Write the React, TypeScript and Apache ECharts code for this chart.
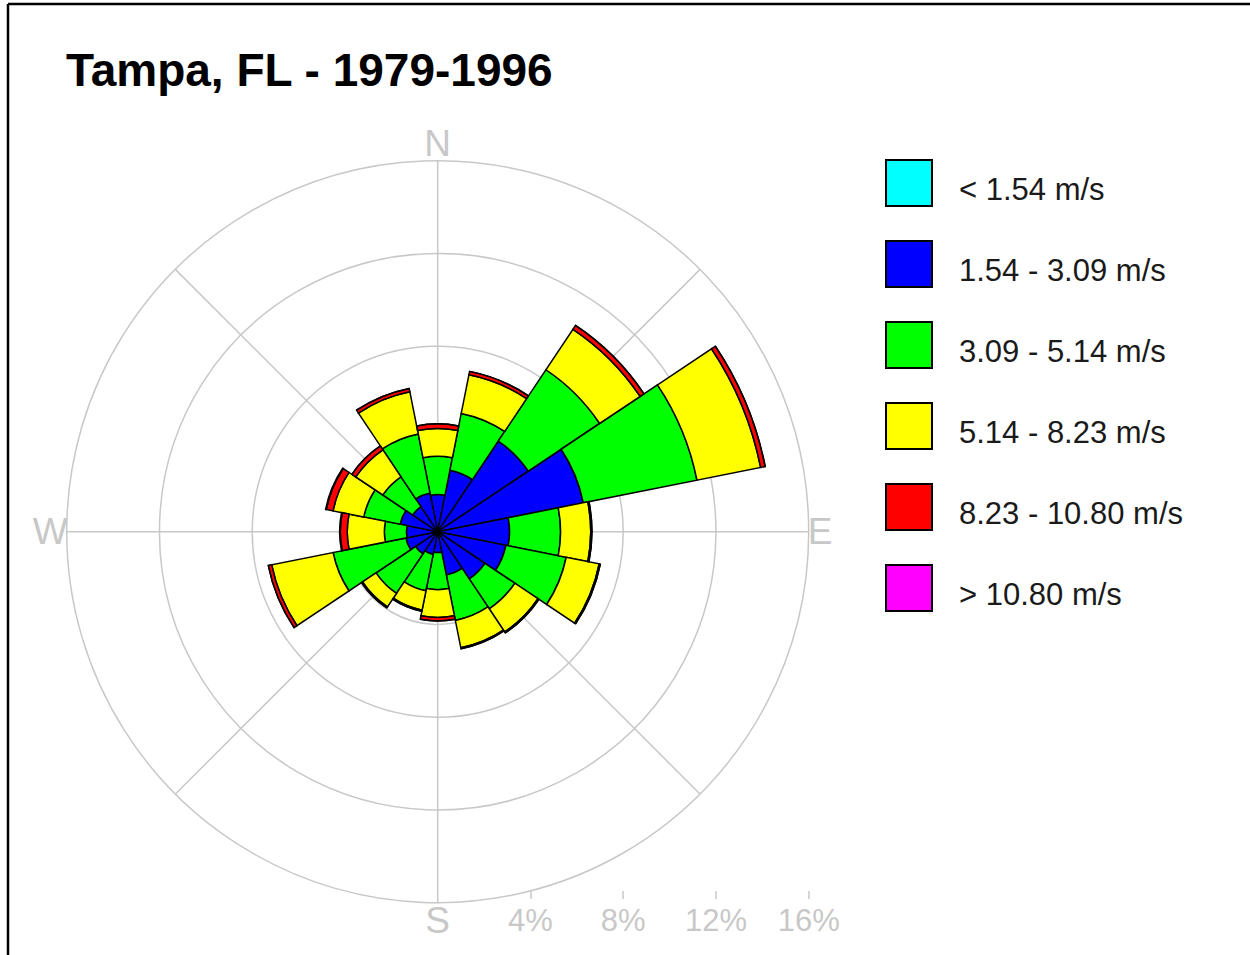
import React, { useEffect, useRef } from "react";
import * as echarts from "echarts";

const directions = ["N", "NNE", "NE", "ENE", "E", "ESE", "SE", "SSE", "S", "SSW", "SW", "WSW", "W", "WNW", "NW", "NNW"];
const speedClasses = ["< 1.54 m/s", "1.54 - 3.09 m/s", "3.09 - 5.14 m/s", "5.14 - 8.23 m/s", "8.23 - 10.80 m/s", "> 10.80 m/s"];
const classColors = ["#00ffff", "#0000ff", "#00ff00", "#ffff00", "#ff0000", "#ff00ff"];

// percent frequency per direction for each speed class
const calmClass = [0, 0, 0, 0, 0, 0, 0, 0, 0, 0, 0, 0, 0, 0, 0, 0];
const blueClass = [1.6, 2.7, 4.7, 6.4, 3.1, 3.0, 2.45, 1.9, 0.9, 1.0, 1.15, 1.4, 1.35, 1.65, 1.3, 1.7];
const greenClass = [1.65, 2.5, 3.7, 5.0, 2.2, 2.65, 1.55, 2.0, 1.6, 1.6, 2.05, 3.2, 0.95, 1.6, 1.55, 2.6];
const yellowClass = [1.2, 1.7, 2.1, 2.8, 1.3, 1.45, 1.2, 1.2, 1.2, 0.85, 0.7, 2.7, 1.6, 1.35, 1.4, 1.85];
const redClass = [0.2, 0.15, 0.2, 0.2, 0.05, 0.05, 0.05, 0.05, 0.15, 0.05, 0.05, 0.15, 0.3, 0.3, 0.2, 0.15];
const magentaClass = [0, 0, 0, 0, 0, 0, 0, 0, 0, 0, 0, 0, 0.03, 0.03, 0, 0];
const classValues = [calmClass, blueClass, greenClass, yellowClass, redClass, magentaClass];

const radialMax = 16;
const radialStep = 4;
const axisTickValues = [4, 8, 12, 16];
const compassLabels: Record<number, string> = { 0: "N", 90: "E", 180: "S", 270: "W" };

const FONT = "'Liberation Sans', Arial, sans-serif";
const GRID_GRAY = "#c8c8c8";

export default function App() {
  const ref = useRef<HTMLDivElement>(null);

  useEffect(() => {
    if (!ref.current) return;
    const chart = echarts.init(ref.current, undefined, { renderer: "svg" });
    const CX = 437.7;
    const CY = 531.7;
    const R = 371;

    const option: any = {
      animation: false,
      backgroundColor: "#ffffff",
      textStyle: { fontFamily: FONT },
      title: {
        text: "Tampa, FL - 1979-1996",
        left: 61,
        top: 42,
        textStyle: { fontSize: 46, fontWeight: "bold", color: "#000", fontFamily: FONT },
      },
      legend: {
        data: speedClasses,
        orient: "vertical",
        left: 880,
        top: 154,
        itemWidth: 46,
        itemHeight: 46,
        itemGap: 33,
        icon: "rect",
        selectedMode: false,
        itemStyle: { borderColor: "#000", borderWidth: 2 },
        formatter: (name: string) => `{t|${name}}`,
        textStyle: {
          fontSize: 31,
          color: "#1a1a1a",
          fontFamily: FONT,
          padding: [0, 0, 0, 22],
          rich: {
            t: {
              fontSize: 31,
              lineHeight: 34,
              color: "#1a1a1a",
              fontFamily: FONT,
              padding: [13, 0, 0, 0],
            },
          },
        },
      },
      polar: [
        { center: [CX, CY], radius: R },
        { center: [CX, CY], radius: R },
      ],
      angleAxis: [
        {
          polarIndex: 0,
          type: "value",
          min: 0,
          max: 360,
          interval: 45,
          startAngle: 90,
          clockwise: true,
          axisLine: { show: false },
          axisTick: { show: false },
          splitLine: { show: true, lineStyle: { color: GRID_GRAY, width: 1.5 } },
          axisLabel: {
            formatter: (v: number) => compassLabels[v] || "",
            color: GRID_GRAY,
            fontSize: 37,
            margin: -1,
            fontFamily: FONT,
          },
        },
        {
          polarIndex: 1,
          type: "category",
          data: directions,
          startAngle: 101.25,
          clockwise: true,
          boundaryGap: true,
          axisLine: { show: false },
          axisTick: { show: false },
          axisLabel: { show: false },
          splitLine: { show: false },
        },
      ],
      radiusAxis: [
        {
          polarIndex: 0,
          type: "value",
          min: 0,
          max: radialMax,
          interval: radialStep,
          axisLine: { show: false },
          axisTick: { show: false },
          axisLabel: { show: false },
          splitLine: { show: true, lineStyle: { color: GRID_GRAY, width: 1.5 } },
        },
        {
          polarIndex: 1,
          type: "value",
          min: 0,
          max: radialMax,
          show: false,
        },
      ],
      grid: { left: CX, width: R, top: 880, height: 19 },
      xAxis: {
        type: "value",
        min: 0,
        max: radialMax,
        interval: radialStep,
        axisLine: { show: false },
        axisTick: {
          show: true,
          inside: true,
          length: 8,
          customValues: axisTickValues,
          lineStyle: { color: GRID_GRAY, width: 1.5 },
        },
        axisLabel: {
          formatter: (v: number) => (v === 0 ? "" : v + "%"),
          color: GRID_GRAY,
          fontSize: 31,
          margin: 6,
          fontFamily: FONT,
        },
        splitLine: { show: false },
      },
      yAxis: { type: "value", show: false },
      graphic: [
        { type: "line", shape: { x1: 8, y1: 4, x2: 1250, y2: 4 }, style: { stroke: "#000", lineWidth: 2.5 } },
        { type: "line", shape: { x1: 8, y1: 4, x2: 8, y2: 955 }, style: { stroke: "#000", lineWidth: 2.5 } },
      ],
      series: speedClasses.map((name, i) => ({
        name,
        type: "bar",
        coordinateSystem: "polar",
        polarIndex: 1,
        stack: "wind",
        barCategoryGap: "0%",
        data: classValues[i],
        itemStyle: { color: classColors[i], borderColor: "#000", borderWidth: 1.5 },
        emphasis: { disabled: true },
      })),
    };

    chart.setOption(option);
    return () => chart.dispose();
  }, []);

  return (
    <div
      ref={ref}
      style={{ position: "absolute", left: 0, top: 0, width: 1250, height: 955 }}
    />
  );
}
